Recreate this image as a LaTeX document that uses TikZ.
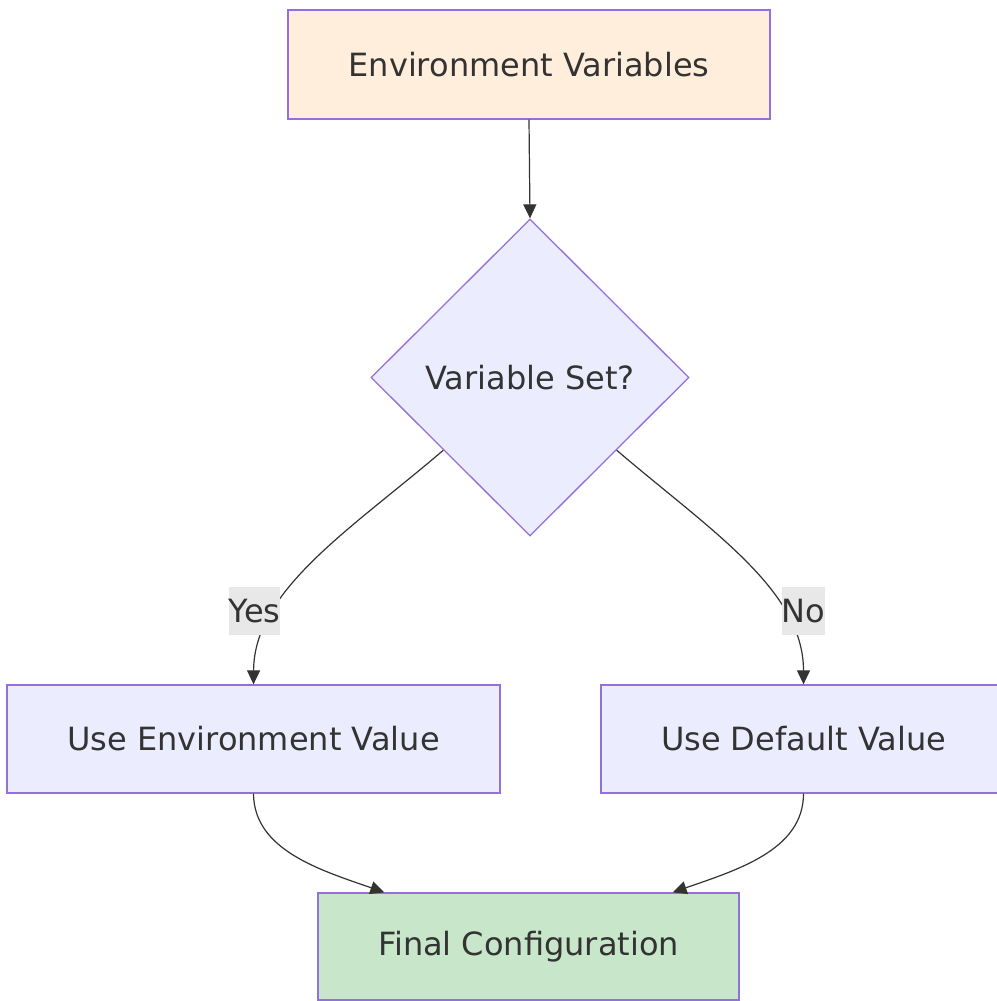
\documentclass[tikz,border=0pt]{standalone}
\usepackage{fontspec}
\setmainfont{DejaVu Sans}
\usepackage{xcolor}
\usetikzlibrary{shapes.geometric,arrows.meta}
\definecolor{boxline}{HTML}{9370DB}
\definecolor{boxfill}{HTML}{ECECFF}
\definecolor{startfill}{HTML}{FFEEDB}
\definecolor{endfill}{HTML}{C8E6C9}
\definecolor{edgeline}{HTML}{333333}
\definecolor{labelfill}{HTML}{E8E8E8}
\tikzset{
    flow-box/.style = {draw=boxline, fill=boxfill, line width=1.3pt, rectangle, inner sep=0pt, text=edgeline, font=\fontsize{32}{38}\selectfont},
    flow-decision/.style = {flow-box, diamond, aspect=1},
    flow-edge/.style = {draw=edgeline, line width=1.2pt, -{Triangle[length=14pt,width=13pt]}},
    flow-label/.style = {fill=labelfill, text=edgeline, inner sep=0pt, minimum height=48pt, font=\fontsize{32}{38}\selectfont},
}

\begin{document}
\begin{tikzpicture}[x=1pt,y=-1pt]
\useasboundingbox (0,0) rectangle (996,1001);
\node [flow-box, fill=startfill, minimum width=482pt, minimum height=109pt] (envvars) at (529,64.5) {Environment Variables};
\node [flow-decision, minimum width=318pt, minimum height=317pt] (varset) at (530,377.5) {Variable Set?};
\node [flow-box, minimum width=493pt, minimum height=108pt] (useenv) at (253.5,739) {Use Environment Value};
\node [flow-box, minimum width=405pt, minimum height=108pt] (usedefault) at (803.5,739) {Use Default Value};
\node [flow-box, fill=endfill, minimum width=421pt, minimum height=107pt] (finalcfg) at (528.5,946.5) {Final Configuration};

\draw [flow-edge] (envvars.south) -- (varset.north);
\draw [flow-edge] (varset.-140) .. controls (350,530) and (254,590) .. (useenv.north);
\draw [flow-edge] (varset.-40) .. controls (710,530) and (803.5,590) .. (usedefault.north);
\draw [flow-edge] (useenv.south) .. controls (254,850) and (320,870) .. ([xshift=67pt]finalcfg.north west);
\draw [flow-edge] (usedefault.south) .. controls (803.5,850) and (737,870) .. ([xshift=-67pt]finalcfg.north east);

\node [flow-label] (yes) at (254.5,611) {Yes};
\node [flow-label] (no) at (803.5,611) {No};
\end{tikzpicture}
\end{document}
